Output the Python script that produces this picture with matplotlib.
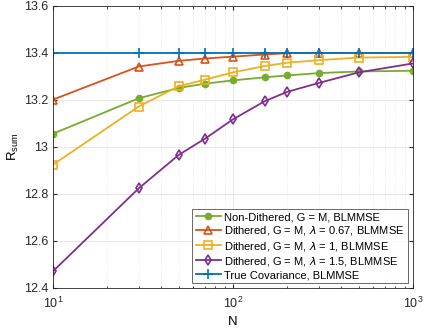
"""
Sum rate vs N for dithered / non-dithered estimators (log x axis).
Output: out.png
"""
import matplotlib.pyplot as plt

N = [10, 30, 50, 70, 100, 150, 200, 300, 500, 1000]
non_dithered = [13.055, 13.206, 13.250, 13.268, 13.282, 13.295, 13.303, 13.313, 13.320, 13.323]
dith_067 = [13.200, 13.341, 13.365, 13.375, 13.383, 13.392, 13.398, 13.399, 13.399, 13.398]
dith_1 = [12.923, 13.171, 13.257, 13.285, 13.316, 13.343, 13.357, 13.368, 13.379, 13.382]
dith_15 = [12.470, 12.823, 12.965, 13.034, 13.116, 13.193, 13.233, 13.271, 13.316, 13.354]
true_cov = [13.4] * len(N)

labels = [
    "Non-Dithered, G = M, BLMMSE",
    r"Dithered, G = M, $\lambda$ = 0.67, BLMMSE",
    r"Dithered, G = M, $\lambda$ = 1, BLMMSE",
    r"Dithered, G = M, $\lambda$ = 1.5, BLMMSE",
    "True Covariance, BLMMSE",
]


def main():
    plt.rcParams["font.family"] = ["Liberation Sans", "DejaVu Sans"]
    plt.rcParams["mathtext.fontset"] = "custom"
    plt.rcParams["mathtext.rm"] = "Liberation Sans"
    fig = plt.figure(figsize=(4.26, 3.29), dpi=100)
    ax = fig.add_axes([0.124, 0.125, 0.845, 0.858])

    kw = dict(lw=1.3, ms=5.5, mfc="none", mew=1.2)
    ax.plot(N, non_dithered, "-o", color="#77AC30", lw=1.3, ms=4.5, label=labels[0])
    ax.plot(N, dith_067, "-^", color="#D95319", label=labels[1], **kw)
    ax.plot(N, dith_1, "-s", color="#EDB120", label=labels[2], **kw)
    ax.plot(N, dith_15, "-d", color="#7E2F8E", label=labels[3], **kw)
    ax.plot(N, true_cov, "-+", color="#0072BD", lw=1.3, ms=7, mew=1.2, label=labels[4])

    ax.set_xscale("log")
    ax.set_xlim(10, 1000)
    ax.set_ylim(12.4, 13.6)
    ax.set_yticks([12.4, 12.6, 12.8, 13.0, 13.2, 13.4, 13.6])
    ax.set_yticklabels(["12.4", "12.6", "12.8", "13", "13.2", "13.4", "13.6"])
    ax.set_xlabel("N", fontsize=9.5, labelpad=3)
    ax.set_ylabel(r"R$_{\mathrm{sum}}$", fontsize=9.5, labelpad=2)

    ax.grid(True, which="major", color="#e6e6e6", lw=0.7)
    ax.grid(True, which="minor", color="#e6e6e6", lw=0.6, ls=":")
    ax.set_axisbelow(True)
    ax.tick_params(which="both", direction="in", labelsize=9, colors="#262626",
                   top=True, right=True)
    ax.tick_params(axis="x", which="major", pad=6)
    ax.tick_params(which="major", length=3)
    ax.tick_params(which="minor", length=1.8)
    for s in ax.spines.values():
        s.set_color("#262626")
        s.set_linewidth(0.6)

    leg = ax.legend(loc="lower right", fontsize=8, frameon=True, fancybox=False,
                    edgecolor="#262626", borderpad=0.3, labelspacing=0.2,
                    handlelength=2.3, handletextpad=0.3, borderaxespad=0.4)
    leg.get_frame().set_linewidth(0.6)

    fig.savefig("out.png", dpi=100)
    plt.close()


if __name__ == "__main__":
    main()
